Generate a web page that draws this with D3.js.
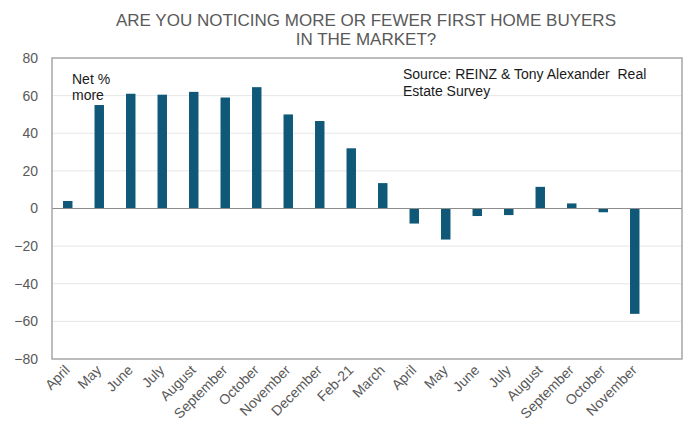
<!DOCTYPE html>
<html><head><meta charset="utf-8">
<script src="https://cdn.jsdelivr.net/npm/d3@7"></script>
<style>
body{margin:0;background:#fff;}
svg{display:block;font-family:"Liberation Sans",Arial,sans-serif;}
</style></head>
<body>
<svg id="chart" width="689" height="429"></svg>
<script>
const categories = ["April","May","June","July","August","September","October","November","December","Feb-21","March","April ","May ","June ","July ","August ","September ","October ","November "];
const values = [4,55,61,60.5,62,59,64.5,50,46.5,32,13.5,-8,-16.5,-4,-3.5,11.5,2.7,-2,-56];
const yTicks = [80,60,40,20,0,-20,-40,-60,-80];
const titleLines = ["ARE YOU NOTICING MORE OR FEWER FIRST HOME BUYERS","IN THE MARKET?"];
const noteLines = ["Net %","more"];
const sourceLines = ["Source: REINZ & Tony Alexander\u00A0 Real","Estate Survey"];

const svg = d3.select("#chart");
const m = {left:52, right:682, top:58, bottom:359};
const slots = categories.concat([""]);

const x = d3.scaleBand().domain(slots.map((d,i)=>i)).range([m.left, m.right]).paddingInner(0.7).paddingOuter(0.35);
const y = d3.scaleLinear().domain([-80,80]).range([m.bottom, m.top]);

// gridlines
svg.append("g").selectAll("line").data(yTicks.filter(t=>t!==0 && t!==80 && t!==-80)).join("line")
  .attr("x1",m.left).attr("x2",m.right).attr("y1",d=>y(d)).attr("y2",d=>y(d))
  .attr("stroke","#e6e6e6").attr("stroke-width",1);

// bars
svg.append("g").selectAll("rect").data(values).join("rect")
  .attr("x",(d,i)=>x(i)).attr("width",x.bandwidth())
  .attr("y",d=>y(Math.max(0,d))).attr("height",d=>Math.abs(y(d)-y(0)))
  .attr("fill","#0f5878");

// zero line
svg.append("line").attr("x1",m.left).attr("x2",m.right).attr("y1",y(0)).attr("y2",y(0))
  .attr("stroke","#8c8c8c").attr("stroke-width",1.2);

// plot border
svg.append("rect").attr("x",m.left).attr("y",m.top).attr("width",m.right-m.left).attr("height",m.bottom-m.top)
  .attr("fill","none").attr("stroke","#a6a6a6").attr("stroke-width",1.5);

// y axis
const ya = d3.axisLeft(y).tickValues(yTicks).tickSize(0).tickPadding(14);
const yg = svg.append("g").attr("transform",`translate(${m.left},0)`).call(ya);
yg.select(".domain").remove();
yg.selectAll("text").attr("font-size",14).attr("fill","#595959").attr("font-family","Liberation Sans, Arial, sans-serif");

// x axis labels
const xa = d3.axisBottom(x).tickSize(0).tickFormat(i=>slots[i].trim());
const xg = svg.append("g").attr("transform",`translate(0,${m.bottom})`).call(xa);
xg.select(".domain").remove();
xg.selectAll("text").attr("font-size",14).attr("fill","#595959").attr("font-family","Liberation Sans, Arial, sans-serif")
  .attr("text-anchor","end").attr("dy",0).attr("y",0)
  .attr("transform","translate(3,12) rotate(-45)");

// title
svg.append("g").selectAll("text").data(titleLines).join("text")
  .attr("x",366).attr("y",(d,i)=>26+i*19).attr("text-anchor","middle")
  .attr("font-size",17).attr("fill","#595959").text(d=>d);

// annotations
svg.append("g").selectAll("text").data(noteLines).join("text")
  .attr("x",72).attr("y",(d,i)=>84+i*16).attr("font-size",14).attr("fill","#1a1a1a").text(d=>d);
svg.append("g").selectAll("text").data(sourceLines).join("text")
  .attr("x",403).attr("y",(d,i)=>79+i*17).attr("font-size",14).attr("fill","#1a1a1a").text(d=>d);
</script>
</body></html>
